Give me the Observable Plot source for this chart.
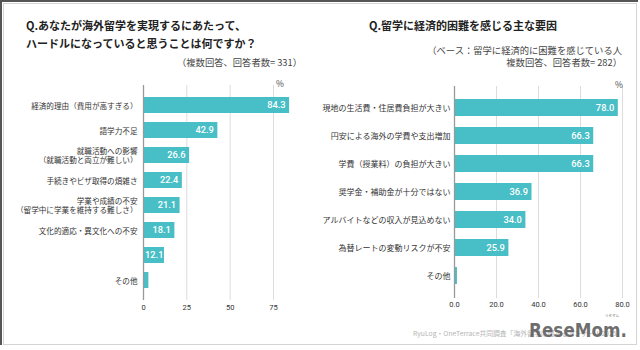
<!DOCTYPE html>
<html><head><meta charset="utf-8">
<script src="https://cdn.jsdelivr.net/npm/d3@7"></script>
<script src="https://cdn.jsdelivr.net/npm/@observablehq/plot@0.6"></script>
<style>
html,body{margin:0;padding:0;background:#fff;}
body{width:640px;height:350px;position:relative;overflow:hidden;font-family:"Noto Sans CJK JP","Noto Sans",sans-serif;}
.abs{position:absolute;white-space:nowrap;}
#frame{position:absolute;left:0;top:0;width:636px;height:343px;border-top:2px solid #555;border-left:2px solid #555;}
#inner{position:absolute;left:3px;top:3px;width:632px;height:340px;border:1px solid #d4d4d4;}
.title{font-weight:bold;font-size:11px;color:#222;line-height:18px;}
.sub{font-size:9.3px;color:#444;line-height:11.6px;text-align:right;}
.pct{font-size:8.5px;color:#444;}
#left,#right{position:absolute;top:0;}
#left{left:0;} #right{left:320px;}
</style></head>
<body>
<div id="frame"></div><div id="inner"></div>
<div id="left"></div><div id="right"></div>
<div class="abs title" style="left:26px;top:16px;">Q.あなたが海外留学を実現するにあたって、<br>ハードルになっていると思うことは何ですか？</div>
<div class="abs sub" style="right:338px;top:57px;">（複数回答、回答者数= 331）</div>
<div class="abs pct" style="left:276px;top:77px;">%</div>
<div class="abs title" style="left:369px;top:16px;">Q.留学に経済的困難を感じる主な要因</div>
<div class="abs sub" style="right:18px;top:45px;">（ベース：留学に経済的に困難を感じている人<br>複数回答、回答者数= 282）</div>
<div class="abs pct" style="left:615px;top:78px;">%</div>
<div class="abs" id="caption" style="left:413px;top:328px;font-size:6.8px;color:#b5b5b5;">RyuLog・OneTerrace共同調査「海外留学に関するアンケート2025」</div>
<svg class="abs" style="left:0;top:0;" width="640" height="350">
  <text x="529" y="337" textLength="98" lengthAdjust="spacingAndGlyphs" font-family="'DejaVu Sans Condensed','DejaVu Sans',sans-serif" font-weight="bold" font-size="20" fill="#5a5a5a" fill-opacity="0.88">ReseMom.</text>
  <text x="605" y="317" font-size="3.5" fill="#666" font-family="'Noto Sans CJK JP',sans-serif">リセマム</text>
</svg>
<script>
const leftCategories = ["経済的理由（費用が高すぎる）","語学力不足","就職活動への影響\n（就職活動と両立が難しい）","手続きやビザ取得の煩雑さ","学業や成績の不安\n（留学中に学業を維持する難しさ）","文化的適応・異文化への不安","","その他"];
const leftValues = [84.3,42.9,26.6,22.4,21.1,18.1,12.1,3.1];
const leftTicks = [0,25,50,75];
const rightCategories = ["現地の生活費・住居費負担が大きい","円安による海外の学費や支出増加","学費（授業料）の負担が大きい","奨学金・補助金が十分ではない","アルバイトなどの収入が見込めない","為替レートの変動リスクが不安","その他"];
const rightValues = [78.0,66.3,66.3,36.9,34.0,25.9,1.4];
const rightTicks = [0,20,40,60,80];

const BAR = "#48bec6";
const FONT = "'Noto Sans CJK JP', sans-serif";

function panel({cats, vals, ticks, fmt, width, height, mL, mR, mT, mB, xMax, pi, po, labelSize, tickPad, labelDx}) {
  const data = cats.map((c,i)=>({id:i, label:c, value:vals[i]}));
  const valText = {text:d=>d.value.toFixed(1), x:"value", y:"id", textAnchor:"end", fill:"white", fontSize:9.3, fontWeight:500, fontFamily:"Roboto, sans-serif"};
  return Plot.plot({
    width, height, marginLeft:mL, marginRight:mR, marginTop:mT, marginBottom:mB,
    style:{fontFamily:FONT, background:"transparent"},
    x:{domain:[0,xMax], axis:null},
    y:{domain:data.map(d=>d.id), paddingInner:pi, paddingOuter:po, axis:null},
    marks:[
      Plot.ruleX(ticks,{stroke:"#dcdcdc", strokeWidth:1}),
      Plot.barX(data,{x:"value", y:"id", fill:BAR}),
      Plot.ruleX([0],{stroke:"#999", strokeWidth:1.3}),
      Plot.text(data,{x:0, y:"id", text:"label", textAnchor:"end", dx:labelDx, fontSize:labelSize, fill:"#333", lineHeight:1.24, lineAnchor:"middle"}),
      Plot.text(data.filter(d=>d.value>=15), {...valText, dx:-4}),
      Plot.text(data.filter(d=>d.value>=5 && d.value<15), {...valText, dx:-1}),
      Plot.axisX({ticks, tickFormat:fmt, tickSize:0, tickPadding:tickPad, fontSize:7.5, fill:"#333", fontFamily:"Roboto, sans-serif", label:null})
    ]
  });
}

document.getElementById("left").append(panel({
  cats:leftCategories, vals:leftValues, ticks:leftTicks, fmt:d=>String(d),
  width:300, height:320, mL:143, mR:27, mT:85, mB:20, xMax:75,
  pi:0.354, po:0.334, labelSize:7.6, tickPad:4, labelDx:-6
}));
document.getElementById("right").append(panel({
  cats:rightCategories, vals:rightValues, ticks:rightTicks, fmt:d=>d.toFixed(1),
  width:320, height:320, mL:134, mR:18, mT:86, mB:22, xMax:80,
  pi:0.39, po:0.393, labelSize:8, tickPad:3, labelDx:-4
}));
</script>
</body></html>
